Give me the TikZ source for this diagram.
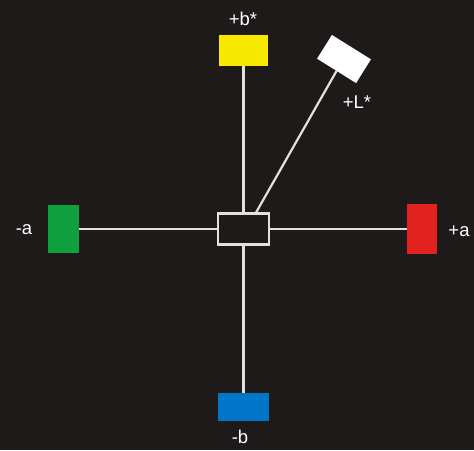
\documentclass[tikz,border=0pt]{standalone}
\usepackage{fontspec}
\setmainfont{Liberation Sans}
\usetikzlibrary{calc}
\definecolor{bg}{RGB}{30,26,25}
\definecolor{ln}{RGB}{225,225,222}
\definecolor{cyel}{RGB}{248,232,0}
\definecolor{cgrn}{RGB}{16,160,64}
\definecolor{cred}{RGB}{226,34,30}
\definecolor{cblu}{RGB}{0,118,200}
\begin{document}
\begin{tikzpicture}[x=1pt,y=-1pt,
  patch/.style={inner sep=0pt, outer sep=0pt, draw=none},
  conn/.style={draw=ln, line width=2.4pt},
  lbl/.style={text=white, font=\fontsize{18.5}{18.5}\selectfont, inner sep=0pt}]
\fill[bg] (0,0) rectangle (474,450);
\useasboundingbox (0,0) rectangle (474,450);
% patches
\node[patch, fill=cyel, minimum width=49pt, minimum height=31pt] (yel) at (243.5,50.5) {};
\node[patch, fill=cblu, minimum width=51pt, minimum height=28pt] (blu) at (243.5,407) {};
\node[patch, fill=cgrn, minimum width=31pt, minimum height=48pt] (grn) at (63.5,229) {};
\node[patch, fill=cred, minimum width=30pt, minimum height=50pt] (red) at (422,229) {};
\node[patch, fill=white, minimum width=46pt, minimum height=28pt, rotate=-32] (lum) at (344,59) {};
\node[patch, draw=ln, line width=2.2pt, fill=bg, minimum width=51pt, minimum height=31pt] (ctr) at (243.5,229) {};
\coordinate (ctrL) at ($(ctr.north)+(12,0)$);
% connectors
\draw[conn] (yel.south) -- (ctr.north);
\draw[conn] (ctr.south) -- (blu.north);
\draw[conn] (grn.east) -- (ctr.west);
\draw[conn] (ctr.east) -- (red.west);
\draw[conn, line width=2.2pt] (ctrL) -- (lum.south);
% labels
\node[lbl] (tb) at (243,19) {+b*};
\node[lbl] (tl) at (357,102) {+L*};
\node[lbl] (ta) at (24,230) {-a};
\node[lbl] (tpa) at (459,231) {+a};
\node[lbl] (tnb) at (240,437) {-b};
\end{tikzpicture}
\end{document}
